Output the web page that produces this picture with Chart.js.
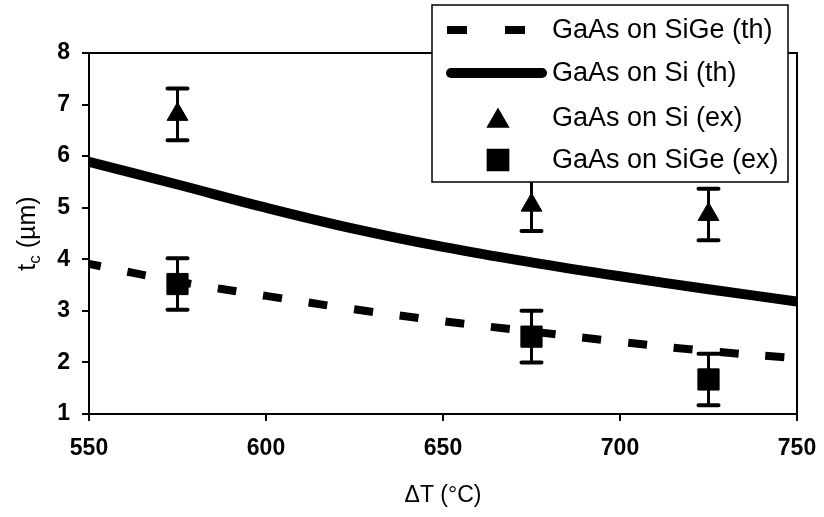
<!DOCTYPE html>
<html>
<head>
<meta charset="utf-8">
<script src="https://cdn.jsdelivr.net/npm/chart.js@4/dist/chart.umd.min.js"></script>
<style>
    html, body { margin: 0; padding: 0; background: #fff; }
    #wrap { width: 824px; height: 517px; }
</style>
</head>
<body>
<div id="wrap"><canvas id="chart" width="824" height="517"></canvas></div>
<script>
// theory curves, sampled every 25 °C
const theoryTemps = [550, 575, 600, 625, 650, 675, 700, 725, 750];
const siTheory = [5.89, 5.45, 5.0, 4.59, 4.24, 3.94, 3.67, 3.42, 3.18];
const sigeTheory = [3.91, 3.57, 3.29, 3.03, 2.8, 2.6, 2.4, 2.22, 2.08];

// measured points with error bars
const expTemps = [575, 675, 725];
const siExp = [6.81, 5.05, 4.87];
const siExpErr = [0.5, 0.5, 0.5];
const sigeExp = [3.52, 2.5, 1.67];
const sigeExpErr = [0.5, 0.5, 0.5];

const seriesLabels = ["GaAs on SiGe (th)", "GaAs on Si (th)", "GaAs on Si (ex)", "GaAs on SiGe (ex)"];
const xTicks = [550, 600, 650, 700, 750];
const yTicks = [1, 2, 3, 4, 5, 6, 7, 8];

const FONT = "'Liberation Sans', Arial, sans-serif";

function toPoints(xs, ys) {
    return xs.map((x, i) => ({x: x, y: ys[i]}));
}

// error bars drawn under the markers
const errorBars = {
    id: 'errorBars',
    beforeDatasetsDraw(chart) {
        const ctx = chart.ctx;
        const xs = chart.scales.x, ys = chart.scales.y;
        ctx.save();
        ctx.strokeStyle = '#000';
        ctx.lineCap = 'round';
        chart.data.datasets.forEach(ds => {
            if (!ds.errors) return;
            ds.data.forEach((p, i) => {
                const px = xs.getPixelForValue(p.x);
                const top = ys.getPixelForValue(p.y + ds.errors[i]);
                const bot = ys.getPixelForValue(p.y - ds.errors[i]);
                ctx.lineWidth = 3;
                ctx.beginPath();
                ctx.moveTo(px, top);
                ctx.lineTo(px, bot);
                ctx.stroke();
                ctx.lineWidth = 4;
                ctx.beginPath();
                ctx.moveTo(px - 10, top); ctx.lineTo(px + 10, top);
                ctx.moveTo(px - 10, bot); ctx.lineTo(px + 10, bot);
                ctx.stroke();
            });
        });
        ctx.restore();
    }
};

// box round the plot, y title with subscript, legend box on top
const decorations = {
    id: 'decorations',
    afterDraw(chart) {
        const ctx = chart.ctx;
        const a = chart.chartArea;
        ctx.save();
        ctx.strokeStyle = '#000';
        ctx.lineWidth = 2;
        ctx.strokeRect(a.left, a.top, a.right - a.left, a.bottom - a.top);

        // y axis title: t_c (µm)
        ctx.save();
        ctx.translate(28, (a.top + a.bottom) / 2);
        ctx.rotate(-Math.PI / 2);
        ctx.fillStyle = '#000';
        ctx.textBaseline = 'middle';
        ctx.font = '25px ' + FONT;
        const w1 = ctx.measureText('t').width;
        const w3 = ctx.measureText(' (µm)').width;
        ctx.font = '17px ' + FONT;
        const w2 = ctx.measureText('c').width;
        let x0 = -(w1 + w2 + w3) / 2;
        ctx.font = '25px ' + FONT;
        ctx.fillText('t', x0, 0);
        ctx.font = '17px ' + FONT;
        ctx.fillText('c', x0 + w1, 7);
        ctx.font = '25px ' + FONT;
        ctx.fillText(' (µm)', x0 + w1 + w2, 0);
        ctx.restore();

        // legend
        const lx = 432, ly = 5, lw = 356, lh = 177;
        ctx.fillStyle = '#fff';
        ctx.fillRect(lx, ly, lw, lh);
        ctx.lineWidth = 1.5;
        ctx.strokeRect(lx, ly, lw, lh);
        const rows = [30, 73, 118, 160];
        const ds = chart.data.datasets;
        ctx.font = '27px ' + FONT;
        ctx.textBaseline = 'middle';
        ctx.textAlign = 'left';
        ds.forEach((d, i) => {
            const y = rows[i];
            ctx.fillStyle = '#000';
            ctx.strokeStyle = '#000';
            if (d.showLine) {
                ctx.save();
                ctx.lineWidth = d.borderWidth;
                if (d.borderDash) {
                    ctx.lineCap = 'butt';
                    ctx.setLineDash([20, 38]);
                    ctx.beginPath();
                    ctx.moveTo(447, y); ctx.lineTo(525, y);
                } else {
                    ctx.lineCap = 'round';
                    ctx.beginPath();
                    ctx.moveTo(451, y); ctx.lineTo(542, y);
                }
                ctx.stroke();
                ctx.restore();
            } else {
                Chart.helpers.drawPoint(ctx, {
                    pointStyle: d.pointStyle,
                    radius: d.pointRadius,
                    rotation: 0,
                    borderWidth: 1
                }, 498, y + (d.pointStyle === 'triangle' ? 3 : 0));
            }
            ctx.fillText(d.label, 552, y + 1);
        });
        ctx.restore();
    }
};

new Chart(document.getElementById('chart'), {
    type: 'scatter',
    data: {
        datasets: [
            {
                label: seriesLabels[0],
                data: toPoints(theoryTemps, sigeTheory),
                showLine: true,
                borderColor: '#000',
                borderWidth: 8,
                borderDash: [19, 27],
                borderDashOffset: 7,
                tension: 0.4,
                pointRadius: 0,
                order: 4
            },
            {
                label: seriesLabels[1],
                data: toPoints(theoryTemps, siTheory),
                showLine: true,
                borderColor: '#000',
                borderWidth: 10,
                tension: 0.4,
                pointRadius: 0,
                order: 3
            },
            {
                label: seriesLabels[2],
                data: toPoints(expTemps, siExp),
                errors: siExpErr,
                pointStyle: 'triangle',
                pointRadius: 12,
                backgroundColor: '#000',
                borderColor: '#000',
                borderWidth: 1,
                order: 2
            },
            {
                label: seriesLabels[3],
                data: toPoints(expTemps, sigeExp),
                errors: sigeExpErr,
                pointStyle: 'rect',
                pointRadius: 15,
                backgroundColor: '#000',
                borderColor: '#000',
                borderWidth: 1,
                order: 1
            }
        ]
    },
    options: {
        responsive: false,
        animation: false,
        layout: {padding: {top: 53, right: 27, left: 0, bottom: 0}},
        plugins: {
            legend: {display: false},
            tooltip: {enabled: false}
        },
        scales: {
            x: {
                type: 'linear',
                min: 550,
                max: 750,
                afterFit: s => { s.height = 103; s.paddingLeft = 0; s.paddingRight = 0; },
                afterBuildTicks: s => { s.ticks = xTicks.map(v => ({value: v})); },
                grid: {drawOnChartArea: false, drawTicks: true, tickLength: 7, color: '#000', lineWidth: 2},
                border: {display: true, color: '#000', width: 2},
                ticks: {color: '#000', padding: 14, font: {family: FONT, size: 23, weight: 'bold'}},
                title: {display: true, text: 'ΔT (°C)', color: '#000', font: {family: FONT, size: 23}, padding: {top: 0, bottom: 8}}
            },
            y: {
                type: 'linear',
                min: 1,
                max: 8,
                afterFit: s => { s.width = 89; },
                afterBuildTicks: s => { s.ticks = yTicks.map(v => ({value: v})); },
                grid: {drawOnChartArea: false, drawTicks: true, tickLength: 7, color: '#000', lineWidth: 2},
                border: {display: true, color: '#000', width: 2},
                ticks: {color: '#000', padding: 12, font: {family: FONT, size: 23, weight: 'bold'}}
            }
        }
    },
    plugins: [errorBars, decorations]
});
</script>
</body>
</html>
